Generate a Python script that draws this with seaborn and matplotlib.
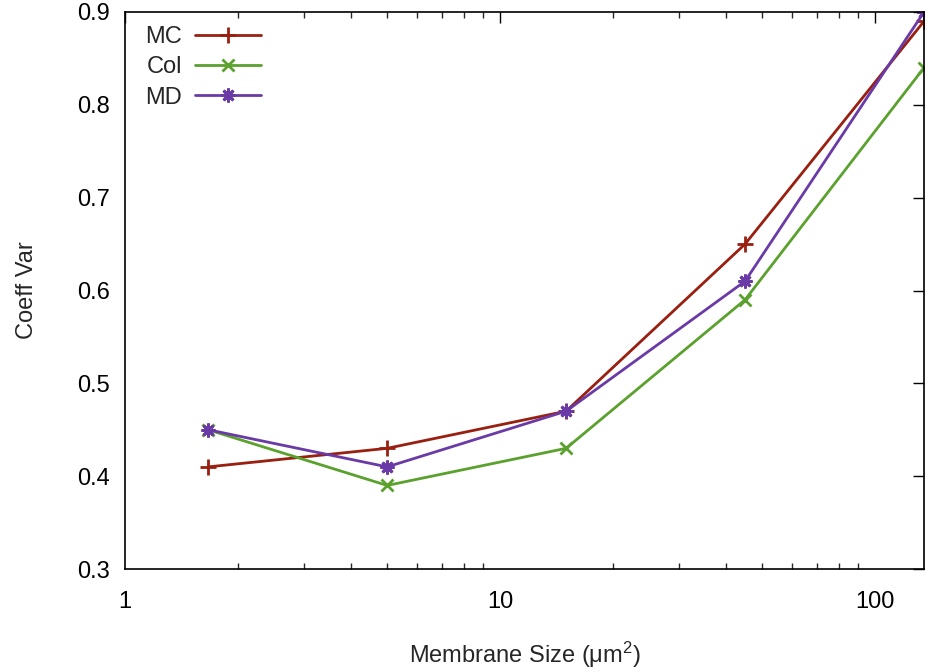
import matplotlib
matplotlib.use("Agg")
import matplotlib.pyplot as plt
import seaborn as sns
import pandas as pd
import numpy as np
from matplotlib.ticker import LogLocator, FixedLocator, NullFormatter, MultipleLocator

sizes = [5/3, 5, 15, 45, 135]
mc = [0.41, 0.43, 0.47, 0.65, 0.89]
col = [0.45, 0.39, 0.43, 0.59, 0.84]
md = [0.45, 0.41, 0.47, 0.61, 0.90]
series_names = ["MC", "Col", "MD"]
colors = ["#991f10", "#5ba12e", "#6a3aa6"]
markers = ["+", "x", (8, 2, 0)]
msizes = [11, 8, 10]

df = pd.DataFrame({
    "size": sizes * 3,
    "cv": mc + col + md,
    "series": [n for n in series_names for _ in sizes],
})

sns.set_style("white")
plt.rcParams['font.family'] = ['Liberation Sans', 'DejaVu Sans']
plt.rcParams['mathtext.fontset'] = 'custom'
plt.rcParams['mathtext.rm'] = 'Liberation Sans'
plt.rcParams['mathtext.it'] = 'Liberation Sans'

fig = plt.figure(figsize=(9.25, 6.72), dpi=100)
ax = fig.add_axes([125/925, 103/672, 799/925, 557/672])

for name, c, m, ms in zip(series_names, colors, markers, msizes):
    sub = df[df.series == name]
    sns.lineplot(data=sub, x="size", y="cv", ax=ax, color=c, marker=m,
                 markersize=ms, markeredgewidth=2, markeredgecolor=c,
                 linewidth=2, label=name)

ax.set_xscale("log")
ax.set_xlim(1, 135)
ax.set_ylim(0.3, 0.9)
ax.yaxis.set_major_locator(MultipleLocator(0.1))
ax.xaxis.set_major_locator(FixedLocator([1, 10, 100]))
ax.set_xticklabels(["1", "10", "100"])
ax.xaxis.set_minor_locator(LogLocator(base=10, subs=np.arange(2, 10)))
ax.xaxis.set_minor_formatter(NullFormatter())

for s in ax.spines.values():
    s.set_color("black")
    s.set_linewidth(1.2)

ax.tick_params(axis="both", which="major", direction="in", length=8, width=1,
               top=True, right=True, labelsize=17, pad=11, colors="black")
ax.tick_params(axis="x", which="minor", direction="in", length=4, width=1,
               top=True, bottom=True)
ax.tick_params(axis="x", which="major", pad=16)

ax.set_xlabel("Membrane Size (μm$^2$)", fontsize=17, labelpad=19)
ax.set_ylabel("Coeff Var", fontsize=17, labelpad=28)

leg = ax.legend(loc="upper left", markerfirst=False, frameon=False, fontsize=17,
                handlelength=2.8, handletextpad=0.55, borderaxespad=0.2,
                labelspacing=0.35, bbox_to_anchor=(0.008, 1.0))

fig.savefig("out.png", dpi=100)
